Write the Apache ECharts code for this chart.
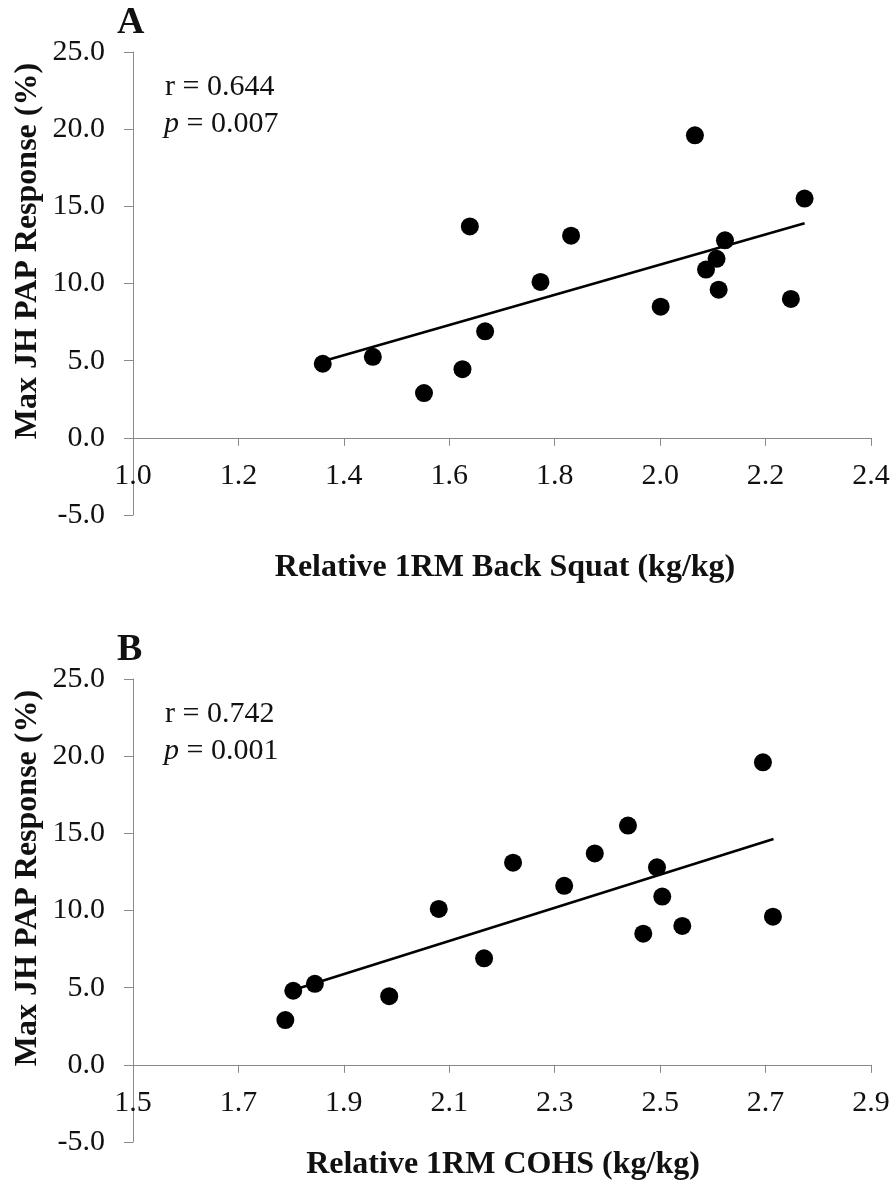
<!DOCTYPE html>
<html>
<head>
<meta charset="utf-8">
<script src="https://cdn.jsdelivr.net/npm/echarts@6/dist/echarts.min.js"></script>
<style>
  html, body { margin: 0; padding: 0; background: #fff; }
  #chart { width: 894px; height: 1184px; }
</style>
</head>
<body>
<div id="chart"></div>
<script>
// Panel A: relative 1RM back squat vs. max jump-height PAP response
const squatX = [1.360, 1.455, 1.552, 1.625, 1.639, 1.668, 1.773, 1.831, 2.001, 2.066, 2.087, 2.107, 2.111, 2.123, 2.248, 2.274];
const squatY = [4.8, 5.25, 2.9, 4.45, 13.7, 6.9, 10.1, 13.1, 8.5, 19.6, 10.9, 11.6, 9.6, 12.8, 9.0, 15.5];
const squatFit = [[1.360, 4.96], [2.274, 13.91]];
const squatTicks = [1.0, 1.2, 1.4, 1.6, 1.8, 2.0, 2.2, 2.4];

// Panel B: relative 1RM COHS vs. max jump-height PAP response
const cohsX = [1.789, 1.804, 1.845, 1.986, 2.080, 2.166, 2.221, 2.318, 2.376, 2.439, 2.468, 2.494, 2.504, 2.542, 2.695, 2.714];
const cohsY = [2.9, 4.8, 5.25, 4.45, 10.1, 6.9, 13.1, 11.6, 13.7, 15.5, 8.5, 12.8, 10.9, 9.0, 19.6, 9.6];
const cohsFit = [[1.789, 4.68], [2.715, 14.63]];
const cohsTicks = [1.5, 1.7, 1.9, 2.1, 2.3, 2.5, 2.7, 2.9];

const yTicks = [-5, 0, 5, 10, 15, 20, 25];

const panelLetters = ['A', 'B'];
const statsR = ['r = 0.644', 'r = 0.742'];
const statsP = ['0.007', '0.001'];
const yTitle = 'Max JH PAP Response (%)';
const xTitles = ['Relative 1RM Back Squat (kg/kg)', 'Relative 1RM COHS (kg/kg)'];

const SERIF = '"Liberation Serif", "Times New Roman", serif';
const AXIS_GREY = '#8a8a8a';
const TEXT = '#111';
const TICK_FONT = 30;

// plot-area geometry (pixels)
const GRID_LEFT = 133, GRID_W = 738, GRID_H = 463;
const GRID_TOPS = [52, 679];

const zip = (xs, ys) => xs.map((x, i) => [x, ys[i]]);
const fmt1 = v => Number(v).toFixed(1);

// the horizontal axis crosses the vertical one at y = 0, so lift it from the
// bottom edge of the plot by the span between the lowest tick and zero
const yMin = yTicks[0], yMax = yTicks[yTicks.length - 1];
const zeroLift = GRID_H * (0 - yMin) / (yMax - yMin);

function xAxisFor(gridIndex, ticks) {
  return {
    gridIndex, type: 'value',
    min: ticks[0], max: ticks[ticks.length - 1],
    offset: -zeroLift,
    axisLine: { show: true, onZero: false, lineStyle: { color: AXIS_GREY, width: 1 } },
    axisTick: { show: true, customValues: ticks, length: 8, lineStyle: { color: AXIS_GREY } },
    axisLabel: { customValues: ticks, formatter: fmt1, fontFamily: SERIF, fontSize: TICK_FONT, color: TEXT, margin: 23 },
    splitLine: { show: false }
  };
}
function yAxisFor(gridIndex) {
  return {
    gridIndex, type: 'value',
    min: yMin, max: yMax,
    axisLine: { show: true, onZero: false, lineStyle: { color: AXIS_GREY, width: 1 } },
    axisTick: { show: true, customValues: yTicks, length: 9, lineStyle: { color: AXIS_GREY } },
    axisLabel: { customValues: yTicks, formatter: fmt1, fontFamily: SERIF, fontSize: TICK_FONT, color: TEXT, margin: 28 },
    splitLine: { show: false }
  };
}

function txt(x, y, text, font, opts) {
  return Object.assign({
    type: 'text', x, y, silent: true,
    style: Object.assign({ text, font, fill: TEXT, textAlign: 'left', textVerticalAlign: 'middle' }, (opts && opts.style) || {})
  }, opts && opts.rotation !== undefined ? { rotation: opts.rotation } : {});
}

const letterFont = 'bold 38px ' + SERIF;
const statFont = '30px ' + SERIF;
const titleFont = 'bold 32px ' + SERIF;

const panelShift = [0, 627];
const graphics = [];
panelShift.forEach((dy, i) => {
  graphics.push(txt(117, 23 + dy, panelLetters[i], letterFont));
  graphics.push(txt(165, 87 + dy, statsR[i], statFont));
  graphics.push({
    type: 'text', x: 164, y: 124 + dy, silent: true,
    style: {
      text: '{i|p} = ' + statsP[i], font: statFont, fill: TEXT,
      textAlign: 'left', textVerticalAlign: 'middle',
      rich: { i: { fontStyle: 'italic', fontSize: 30, fontFamily: SERIF, fill: TEXT } }
    }
  });
  graphics.push(txt(28, 251 + dy, yTitle, titleFont, { rotation: Math.PI / 2, style: { textAlign: 'center' } }));
});
graphics.push(txt(505, 568, xTitles[0], titleFont, { style: { textAlign: 'center' } }));
graphics.push(txt(503, 1165, xTitles[1], titleFont, { style: { textAlign: 'center' } }));

const chart = echarts.init(document.getElementById('chart'), null, { renderer: 'canvas' });
chart.setOption({
  animation: false,
  backgroundColor: '#fff',
  grid: GRID_TOPS.map(top => ({ left: GRID_LEFT, top, width: GRID_W, height: GRID_H })),
  xAxis: [xAxisFor(0, squatTicks), xAxisFor(1, cohsTicks)],
  yAxis: [yAxisFor(0), yAxisFor(1)],
  series: [
    { type: 'line', xAxisIndex: 0, yAxisIndex: 0, data: squatFit, symbol: 'none', lineStyle: { color: '#000', width: 2.6 }, z: 2 },
    { type: 'scatter', xAxisIndex: 0, yAxisIndex: 0, data: zip(squatX, squatY), symbolSize: 18, itemStyle: { color: '#000', opacity: 1 }, z: 3 },
    { type: 'line', xAxisIndex: 1, yAxisIndex: 1, data: cohsFit, symbol: 'none', lineStyle: { color: '#000', width: 2.6 }, z: 2 },
    { type: 'scatter', xAxisIndex: 1, yAxisIndex: 1, data: zip(cohsX, cohsY), symbolSize: 18, itemStyle: { color: '#000', opacity: 1 }, z: 3 }
  ],
  graphic: graphics
});
</script>
</body>
</html>
